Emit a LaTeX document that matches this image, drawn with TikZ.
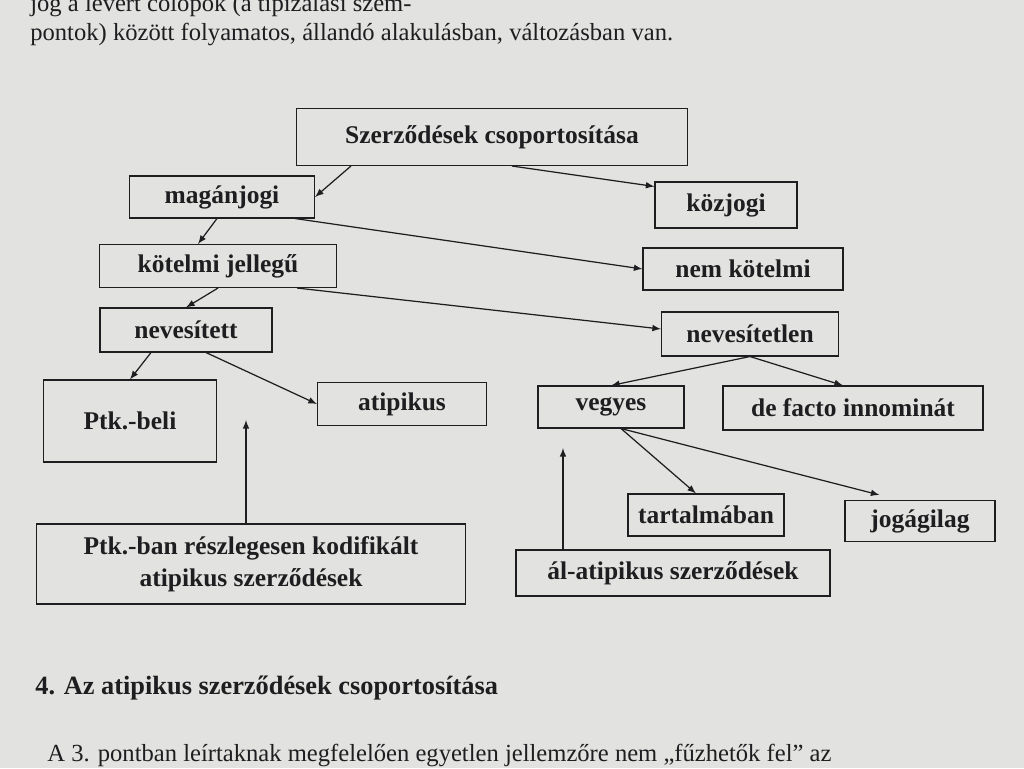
\documentclass[tikz,border=0pt]{standalone}
\usepackage{fontspec}
\usetikzlibrary{calc}
\setmainfont{Liberation Serif}
\definecolor{paper}{RGB}{226,226,224}
\definecolor{ink}{RGB}{30,30,32}
\begin{document}
\begin{tikzpicture}[x=0.02cm,y=-0.02cm,
  bx/.style 2 args={draw=ink,line width=0.6pt,font=\bfseries\fontsize{14.5}{18}\selectfont,text=ink,inner sep=0pt,align=center,minimum width=#1*0.02cm,minimum height=#2*0.02cm},
  arr/.style={-latex,draw=ink,line width=0.7pt},
  txt/.style={font=\fontsize{14}{17}\selectfont,text=ink,anchor=west,inner sep=0pt}]
\fill[paper] (0,0) rectangle (1024,768);
\clip (0,0) rectangle (1024,768);
\useasboundingbox (0,0) rectangle (1024,768);
\node[txt] (l0) at (30,6) {jog a lévert cölöpök (a tipizálási szem-};
\node[txt] (l1) at (30,34) {pontok) között folyamatos, állandó alakulásban, változásban van.};
\node[bx={391}{57}] (root) at (492,137) {Szerződések csoportosítása};
\node[bx={185}{42}] (mag) at (222,197) {magánjogi};
\node[bx={142}{46}] (koz) at (726,205) {közjogi};
\node[bx={237}{43}] (kot) at (218,266) {kötelmi jellegű};
\node[bx={200}{42}] (nemk) at (743,269) {nem kötelmi};
\node[bx={172}{44}] (nev) at (186,330) {nevesített};
\node[bx={177}{44}] (nevt) at (750,334) {nevesítetlen};
\node[bx={173}{82}] (ptk) at (130,421) {Ptk.-beli};
\node[bx={169}{43}] (ati) at (402,404) {atipikus};
\node[bx={146}{42}] (veg) at (611,407) {vegyes};
\node[bx={260}{44}] (def) at (853,408) {de facto innominát};
\node[bx={156}{42}] (tar) at (706,515) {tartalmában};
\node[bx={150}{41}] (jog) at (920,521) {jogágilag};
\node[bx={429}{80}] (rk) at (251,564) {Ptk.-ban részlegesen kodifikált\\atipikus szerződések};
\node[bx={314}{46}] (al) at (673,573) {ál-atipikus szerződések};
\coordinate (rkend) at (246,420);
\coordinate (alend) at (563,448);
\draw[arr] ($(root.south west)+(55,0)$) -- (mag.east);
\draw[arr] ($(root.south)+(20,0)$) -- ($(koz.north west)+(0,5)$);
\draw[arr] ($(mag.south)+(-5,0)$) -- ($(kot.north)+(-20,0)$);
\draw[arr] ($(mag.south east)+(-20,0)$) -- (nemk.west);
\draw[arr] (kot.south) -- (nev.north);
\draw[arr] ($(kot.south east)+(-40,0)$) -- ($(nevt.west)+(0,-5)$);
\draw[arr] ($(nev.south)+(-35,0)$) -- (ptk.north);
\draw[arr] ($(nev.south)+(20,0)$) -- (ati.west);
\draw[arr] (nevt.south) -- (veg.north);
\draw[arr] (nevt.south) -- ($(def.north)+(-10,0)$);
\draw[arr] ($(veg.south)+(10,0)$) -- ($(tar.north)+(-10,0)$);
\draw[arr] ($(veg.south)+(10,0)$) -- ($(jog.north west)+(35,-5)$);
\draw[arr] (rk.north -| rkend) -- (rkend);
\draw[arr] (al.north -| alend) -- (alend);
\node[txt,font=\bfseries\fontsize{15}{18}\selectfont] (h4) at (35,688) {4. Az atipikus szerződések csoportosítása};
\node[txt] (l9) at (47,755) {A 3. pontban leírtaknak megfelelően egyetlen jellemzőre nem „fűzhetők fel” az};
\end{tikzpicture}
\end{document}
